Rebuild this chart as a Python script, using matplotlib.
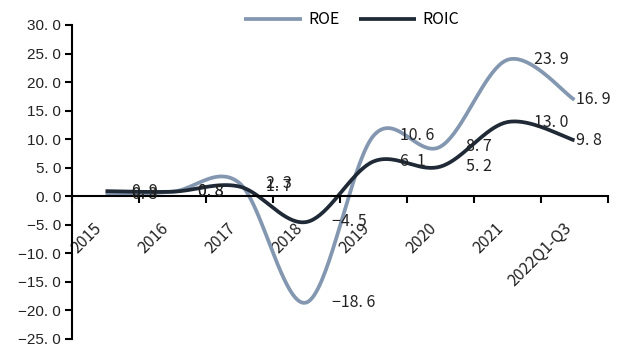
import numpy as np
import matplotlib
matplotlib.use('Agg')
import matplotlib.pyplot as plt

# data
categories = ['2015', '2016', '2017', '2018', '2019', '2020', '2021', '2022Q1-Q3']
roe = [0.3, 0.8, 2.3, -18.6, 10.6, 8.7, 23.9, 16.9]
roic = [0.9, 0.8, 1.7, -4.5, 6.1, 5.2, 13.0, 9.8]
yticks = [-25, -20, -15, -10, -5, 0, 5, 10, 15, 20, 25, 30]

roe_color = '#8497B0'
roic_color = '#1F2A36'
label_font = ['Noto Sans CJK SC', 'DejaVu Sans']


def smooth(x, y, n=40):
    """Excel-like smoothed line (Catmull-Rom as cubic Bezier)."""
    p = np.column_stack([x, y]).astype(float)
    p = np.vstack([p[0], p, p[-1]])
    t = np.linspace(0, 1, n)[:, None]
    out = []
    for i in range(1, len(p) - 2):
        p0, p3 = p[i], p[i + 1]
        c1 = p0 + (p[i + 1] - p[i - 1]) / 6
        c2 = p3 - (p[i + 2] - p[i]) / 6
        seg = ((1 - t) ** 3) * p0 + 3 * ((1 - t) ** 2) * t * c1 \
            + 3 * (1 - t) * t ** 2 * c2 + t ** 3 * p3
        out.append(seg if i == 1 else seg[1:])
    out = np.vstack(out)
    return out[:, 0], out[:, 1]


def fmt(v):
    return f'{v:.1f}'.replace('.', '. ').replace('-', '\u2212')


fig = plt.figure(figsize=(6.2, 3.47), dpi=100)
ax = fig.add_axes([72 / 620, 8 / 347, 536 / 620, 314 / 347])

# spines first: moving a spine resets the ticks
for s in ('top', 'right'):
    ax.spines[s].set_visible(False)
ax.spines['bottom'].set_position(('data', 0))
ax.spines['bottom'].set_linewidth(1.5)
ax.spines['left'].set_linewidth(1.5)

x = np.arange(len(categories))
for vals, col, name in [(roe, roe_color, 'ROE'), (roic, roic_color, 'ROIC')]:
    sx, sy = smooth(x, vals)
    ax.plot(sx, sy, color=col, lw=2.7, label=name, solid_capstyle='butt')

# data labels, to the right of each point
for vals in (roe, roic):
    for i, v in enumerate(vals):
        dx = 2 if i == len(vals) - 1 else 26
        ax.annotate(fmt(v), (i, v), xytext=(dx, 0), textcoords='offset pixels',
                    ha='left', va='center', fontsize=11.5, family=label_font,
                    color='#222222')

ax.set_xlim(-0.5, len(categories) - 0.5)
ax.set_ylim(-25, 30)

ax.tick_params(axis='x', which='major', length=0, pad=17)
ax.tick_params(axis='x', which='minor', length=5, width=1.5, direction='out')
ax.tick_params(axis='y', length=5, width=1.5, direction='out', pad=3)

ax.set_yticks(yticks)
ax.set_yticklabels([fmt(v) for v in yticks], fontsize=11,
                   family=['Liberation Sans', 'DejaVu Sans'], color='#222222')
ax.set_xticks(np.arange(len(categories) + 1) - 0.5, minor=True)
ax.set_xticks(x)
ax.set_xticklabels(categories, rotation=45, ha='right', va='top',
                   fontsize=11.5, family=label_font, color='#222222')

leg = fig.legend(loc='center', bbox_to_anchor=(352 / 620, 1 - 20 / 347),
                 ncol=2, frameon=False, handlelength=3.6, handletextpad=0.4,
                 columnspacing=1.2, prop={'family': label_font, 'size': 11.5})

fig.savefig('out.png', dpi=100)
